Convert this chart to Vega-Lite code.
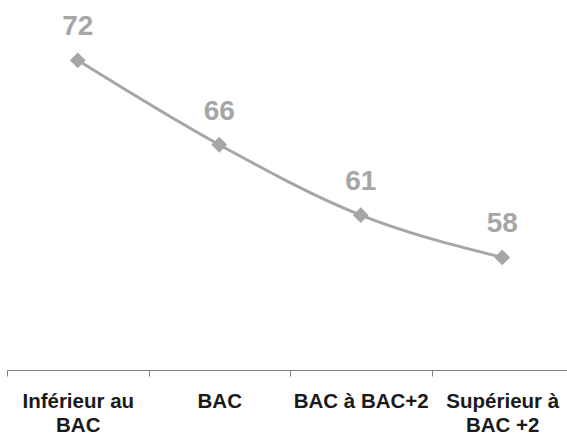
{
  "$schema": "https://vega.github.io/schema/vega-lite/v6.json",
  "width": 566,
  "height": 366,
  "padding": {"left": 6, "right": 0, "top": 4, "bottom": 0},
  "autosize": {"type": "pad"},
  "config": {"view": {"stroke": null}, "font": "Liberation Sans"},
  "data": {"values": [
    {"niveau": "Inférieur au BAC", "valeur": 72},
    {"niveau": "BAC", "valeur": 66},
    {"niveau": "BAC à BAC+2", "valeur": 61},
    {"niveau": "Supérieur à BAC +2", "valeur": 58}
  ]},
  "encoding": {
    "x": {
      "field": "niveau", "type": "nominal", "sort": null,
      "scale": {"paddingInner": 0, "paddingOuter": 0},
      "axis": {
        "title": null, "labelAngle": 0,
        "tickBand": "extent",
        "domainColor": "#808080", "tickColor": "#808080", "tickSize": 6,
        "labelFont": "Liberation Sans", "labelFontSize": 20.5, "labelFontWeight": "bold",
        "labelColor": "#1a1a1a", "labelPadding": 15, "labelLineHeight": 24,
        "labelBaseline": "top",
        "labelExpr": "datum.value == 'Inférieur au BAC' ? ['Inférieur au', 'BAC'] : datum.value == 'Supérieur à BAC +2' ? ['Supérieur à', 'BAC +2'] : datum.value"
      }
    },
    "y": {
      "field": "valeur", "type": "quantitative",
      "scale": {"domain": [50, 76], "nice": false, "zero": false},
      "axis": null
    }
  },
  "layer": [
    {"mark": {"type": "line", "color": "#A6A6A6", "strokeWidth": 3, "interpolate": "monotone"}},
    {"mark": {"type": "point", "shape": "diamond", "filled": true, "color": "#A6A6A6", "size": 250, "opacity": 1}},
    {"mark": {"type": "text", "dy": -25, "baseline": "alphabetic", "fontSize": 28, "fontWeight": "bold", "color": "#A6A6A6", "font": "Liberation Sans"},
     "encoding": {"text": {"field": "valeur", "type": "quantitative"}}}
  ]
}
